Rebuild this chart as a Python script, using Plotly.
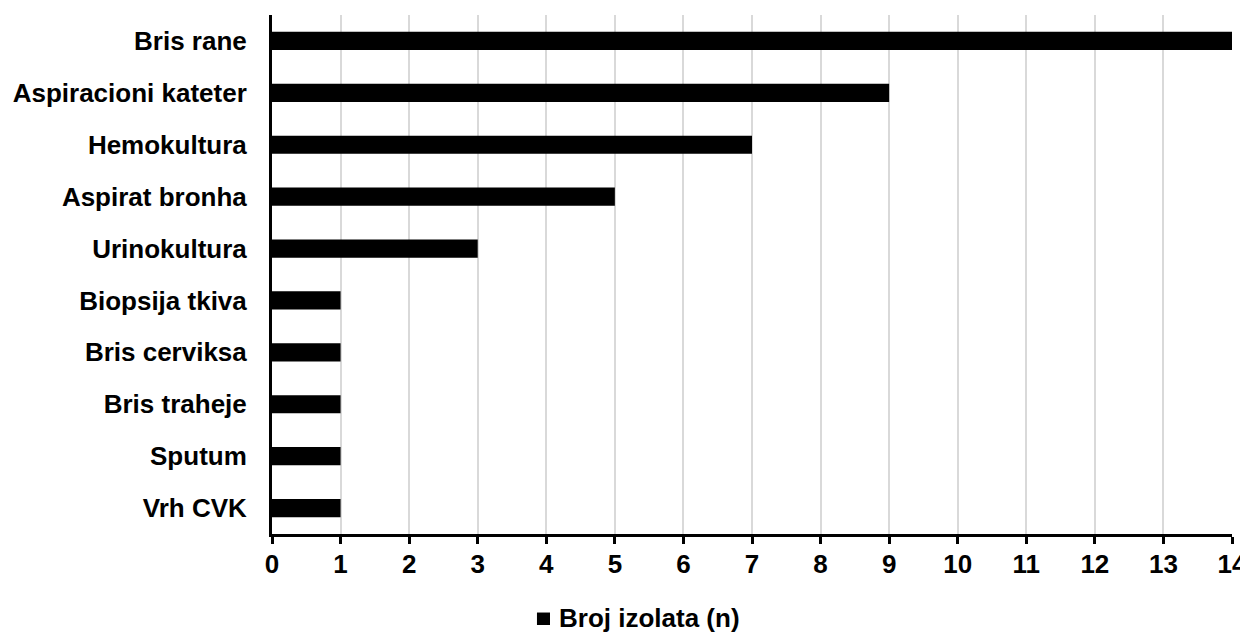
import plotly.graph_objects as go

categories = ["Bris rane", "Aspiracioni kateter", "Hemokultura", "Aspirat bronha",
              "Urinokultura", "Biopsija tkiva", "Bris cerviksa", "Bris traheje",
              "Sputum", "Vrh CVK"]
values = [14, 9, 7, 5, 3, 1, 1, 1, 1, 1]
series_name = "Broj izolata (n)"

FF = "Liberation Sans, Arial, sans-serif"
FS = 26
fig = go.Figure()
fig.add_trace(go.Bar(
    y=categories, x=values, orientation="h", name=series_name,
    marker=dict(color="black", line=dict(width=0)), width=0.35,
    showlegend=False,
))
# legend drawn below the plot (swatch + label)
fig.add_shape(type="rect", xref="paper", yref="paper",
              x0=0.2760, x1=0.2896, y0=-0.1753, y1=-0.1513,
              fillcolor="black", line=dict(width=0))
fig.add_annotation(text="<b>" + series_name + "</b>", xref="paper", yref="paper",
                   x=0.2969, y=-0.1618, xanchor="left", yanchor="middle",
                   showarrow=False, font=dict(family=FF, size=FS, color="black"))
fig.update_layout(
    width=1240, height=624,
    margin=dict(l=264, r=16, t=7, b=98),
    paper_bgcolor="white", plot_bgcolor="white",
    font=dict(family=FF, size=FS, color="black"),
    showlegend=False,
    xaxis=dict(range=[0, 14], dtick=1, tick0=0, showgrid=True, gridcolor="#d9d9d9",
               gridwidth=1.5, showline=True, linecolor="black", linewidth=3,
               ticks="outside", ticklen=7, tickwidth=3, tickcolor="black",
               tickfont=dict(family=FF, size=FS, weight="bold"),
               ticklabelstandoff=-2,
               zeroline=False, automargin=False),
    yaxis=dict(categoryorder="array", categoryarray=categories[::-1],
               showline=True, linecolor="black", linewidth=3, ticks="",
               tickfont=dict(family=FF, size=FS, weight="bold"),
               ticklabelstandoff=17, showgrid=False, automargin=False),
)
fig.write_html("out.html")
